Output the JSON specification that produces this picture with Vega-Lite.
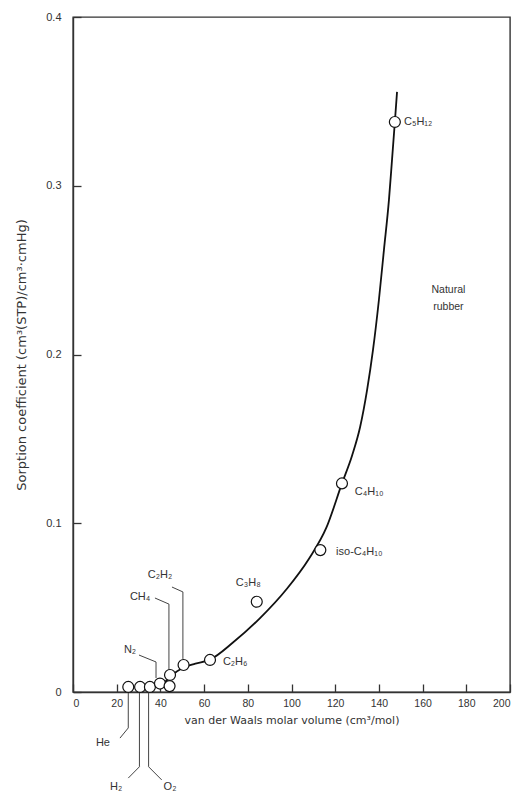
{
  "$schema": "https://vega.github.io/schema/vega-lite/v6.json",
  "autosize": {"type": "none"},
  "width": 437,
  "height": 675,
  "padding": {"left": 73, "top": 17, "right": 10, "bottom": 101},
  "background": "white",
  "config": {
    "font": "Liberation Sans",
    "view": {"stroke": "#333", "strokeWidth": 1.4},
    "axis": {
      "domainColor": "#333",
      "domainWidth": 1.4,
      "tickColor": "#333",
      "tickWidth": 1.3,
      "tickSize": -8,
      "grid": false,
      "labelColor": "#333",
      "titleColor": "#333",
      "titleFont": "DejaVu Sans",
      "titleFontWeight": "normal"
    }
  },
  "datasets": {
    "gases": [
      {"gas": "He", "vol": 25.3, "sorp": 0.003},
      {"gas": "H2", "vol": 30.7, "sorp": 0.003},
      {"gas": "O2", "vol": 35.2, "sorp": 0.003},
      {"gas": "N2", "vol": 39.8, "sorp": 0.005},
      {"gas": "CO2", "vol": 44.2, "sorp": 0.0035},
      {"gas": "CH4", "vol": 44.4, "sorp": 0.0101},
      {"gas": "C2H2", "vol": 50.6, "sorp": 0.016},
      {"gas": "C2H6", "vol": 62.7, "sorp": 0.019},
      {"gas": "C3H8", "vol": 84.1, "sorp": 0.0535},
      {"gas": "iso-C4H10", "vol": 113.2, "sorp": 0.0841},
      {"gas": "C4H10", "vol": 123.1, "sorp": 0.1236},
      {"gas": "C5H12", "vol": 147.3, "sorp": 0.3378}
    ],
    "curve": [
      {"vol": 39.8, "sorp": 0.0025},
      {"vol": 44.4, "sorp": 0.0089},
      {"vol": 50.5, "sorp": 0.0145},
      {"vol": 56.0, "sorp": 0.0168},
      {"vol": 62.7, "sorp": 0.0192},
      {"vol": 73.2, "sorp": 0.0293},
      {"vol": 85.6, "sorp": 0.0438},
      {"vol": 97.9, "sorp": 0.0612},
      {"vol": 108.0, "sorp": 0.0790},
      {"vol": 116.0, "sorp": 0.0975},
      {"vol": 123.1, "sorp": 0.1236},
      {"vol": 127.7, "sorp": 0.1400},
      {"vol": 131.4, "sorp": 0.157},
      {"vol": 134.6, "sorp": 0.179},
      {"vol": 137.3, "sorp": 0.2027},
      {"vol": 140.0, "sorp": 0.2323},
      {"vol": 142.3, "sorp": 0.2619},
      {"vol": 144.6, "sorp": 0.2916},
      {"vol": 146.0, "sorp": 0.3153},
      {"vol": 147.3, "sorp": 0.3378},
      {"vol": 148.3, "sorp": 0.3556}
    ],
    "leaders": [
      {"gas": "He", "seq": 1, "vol": 25.3, "sorp": 0.0012},
      {"gas": "He", "seq": 2, "vol": 25.3, "sorp": -0.0213},
      {"gas": "He", "seq": 3, "vol": 21.5, "sorp": -0.0273},
      {"gas": "H2", "seq": 1, "vol": 30.4, "sorp": 0.0012},
      {"gas": "H2", "seq": 2, "vol": 30.4, "sorp": -0.0443},
      {"gas": "H2", "seq": 3, "vol": 25.3, "sorp": -0.051},
      {"gas": "O2", "seq": 1, "vol": 34.6, "sorp": 0.0012},
      {"gas": "O2", "seq": 2, "vol": 34.6, "sorp": -0.0443},
      {"gas": "O2", "seq": 3, "vol": 40.6, "sorp": -0.0521},
      {"gas": "N2", "seq": 1, "vol": 30.2, "sorp": 0.0219},
      {"gas": "N2", "seq": 2, "vol": 38.0, "sorp": 0.0178},
      {"gas": "N2", "seq": 3, "vol": 38.0, "sorp": 0.0083},
      {"gas": "CH4", "seq": 1, "vol": 37.5, "sorp": 0.0557},
      {"gas": "CH4", "seq": 2, "vol": 43.9, "sorp": 0.0521},
      {"gas": "CH4", "seq": 3, "vol": 43.9, "sorp": 0.013},
      {"gas": "C2H2", "seq": 1, "vol": 45.3, "sorp": 0.0622},
      {"gas": "C2H2", "seq": 2, "vol": 50.3, "sorp": 0.0593},
      {"gas": "C2H2", "seq": 3, "vol": 50.3, "sorp": 0.0196}
    ],
    "tagsRight": [
      {"label": "C₅H₁₂", "vol": 151.5, "sorp": 0.3378},
      {"label": "C₄H₁₀", "vol": 129.0, "sorp": 0.1185},
      {"label": "iso-C₄H₁₀", "vol": 120.4, "sorp": 0.083},
      {"label": "C₂H₆", "vol": 68.6, "sorp": 0.0178}
    ],
    "tagsCenter": [
      {"label": "C₃H₈", "vol": 80.2, "sorp": 0.0646},
      {"label": "C₂H₂", "vol": 39.8, "sorp": 0.0693},
      {"label": "CH₄", "vol": 30.7, "sorp": 0.0563},
      {"label": "N₂", "vol": 26.1, "sorp": 0.0249},
      {"label": "He", "vol": 13.7, "sorp": -0.030},
      {"label": "H₂", "vol": 19.7, "sorp": -0.0563},
      {"label": "O₂", "vol": 44.4, "sorp": -0.0563}
    ],
    "note": [
      {"label": "Natural\nrubber", "vol": 171.8, "sorp": 0.2382}
    ]
  },
  "encoding": {
    "x": {
      "field": "vol",
      "type": "quantitative",
      "scale": {"domain": [0, 200], "nice": false},
      "axis": {
        "title": "van der Waals molar volume (cm³/mol)",
        "titleFontSize": 11,
        "labelFontSize": 10.5,
        "values": [0, 20, 40, 60, 80, 100, 120, 140, 160, 180, 200],
        "labelPadding": 14,
        "titlePadding": 6
      }
    },
    "y": {
      "field": "sorp",
      "type": "quantitative",
      "scale": {"domain": [0, 0.4], "nice": false},
      "axis": {
        "title": "Sorption coefficient (cm³(STP)/cm³·cmHg)",
        "titleFontSize": 13,
        "labelFontSize": 11,
        "values": [0, 0.1, 0.2, 0.3, 0.4],
        "labelExpr": "datum.value == 0 ? '0' : format(datum.value, '.1f')",
        "labelPadding": 20,
        "titlePadding": 17
      }
    }
  },
  "layer": [
    {
      "data": {"name": "curve"},
      "mark": {"type": "line", "interpolate": "monotone", "color": "#111", "strokeWidth": 1.8, "clip": false}
    },
    {
      "data": {"name": "leaders"},
      "mark": {"type": "line", "color": "#444", "strokeWidth": 1, "clip": false},
      "encoding": {
        "detail": {"field": "gas"},
        "order": {"field": "seq", "type": "quantitative"}
      }
    },
    {
      "data": {"name": "gases"},
      "mark": {"type": "point", "shape": "circle", "filled": false, "fill": "white", "fillOpacity": 1, "stroke": "#111", "strokeWidth": 1.2, "size": 120, "opacity": 1}
    },
    {
      "data": {"name": "tagsRight"},
      "mark": {"type": "text", "align": "left", "baseline": "middle", "fontSize": 11, "color": "#333", "clip": false},
      "encoding": {"text": {"field": "label"}}
    },
    {
      "data": {"name": "tagsCenter"},
      "mark": {"type": "text", "align": "center", "baseline": "middle", "fontSize": 11, "color": "#333", "clip": false},
      "encoding": {"text": {"field": "label"}}
    },
    {
      "data": {"name": "note"},
      "mark": {"type": "text", "align": "center", "baseline": "middle", "fontSize": 10.5, "lineHeight": 17, "lineBreak": "\n", "color": "#333"},
      "encoding": {"text": {"field": "label"}}
    }
  ]
}
